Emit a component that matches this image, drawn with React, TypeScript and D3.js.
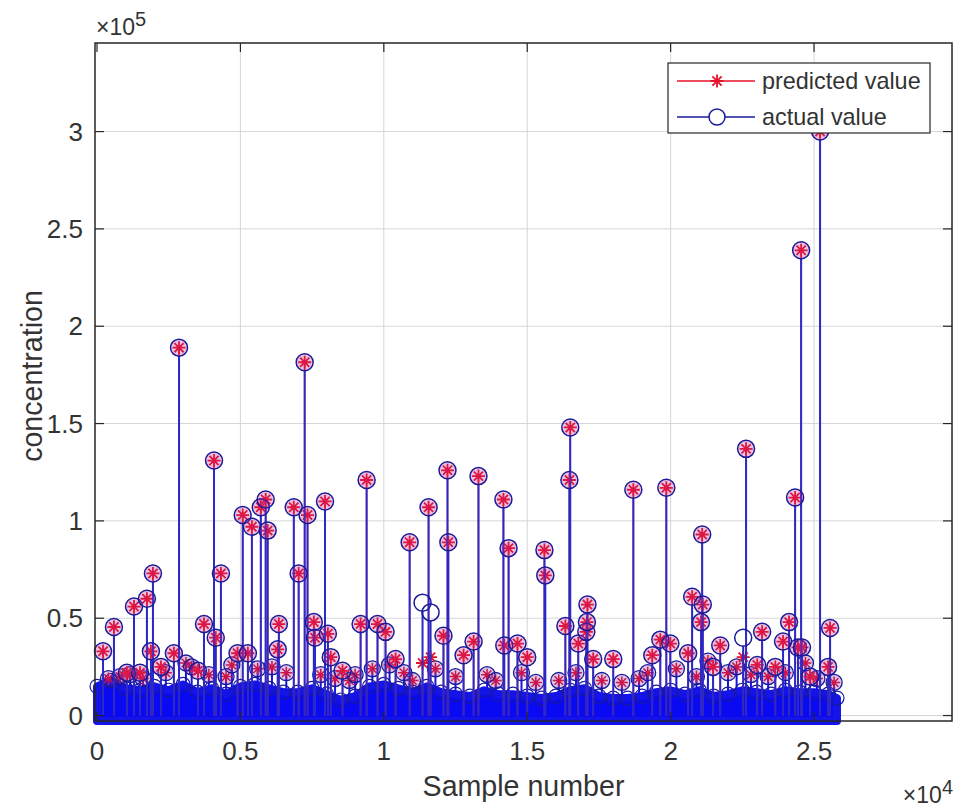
import React, { useEffect, useRef } from 'react'
import * as d3 from 'd3'

// isolated samples that stand out of the dense band
const peakSample = [210, 590, 1040, 1290, 1500, 1740, 1880, 1950, 2230, 2680, 2860, 3520, 3730, 4080, 4140, 4320, 4900, 5080, 5260, 5400, 5710, 5880, 5950, 6300, 6340, 6860, 7030, 7240, 7340, 7560, 7600, 7950, 8050, 8150, 8560, 9190, 9400, 9780, 10060, 10410, 10900, 11350, 11560, 11630, 12080, 12220, 12250, 12780, 13130, 13300, 14170, 14200, 14350, 14660, 15000, 15600, 15630, 16330, 16470, 16500, 16780, 17060, 17080, 17100, 17300, 18000, 18700, 19360, 19640, 19850, 19990, 20610, 20750, 21060, 21100, 21120, 21480, 21730, 22530, 22630, 23020, 23190, 23650, 23920, 24130, 24340, 24440, 24550, 24580, 24860, 25210, 25490, 25560]
const predicted = [33000, 45500, 22000, 56000, 22000, 60000, 33000, 73000, 25000, 32000, 189000, 23000, 47000, 131000, 40000, 73000, 32000, 103000, 32000, 97000, 107000, 111000, 95000, 34000, 47000, 107000, 73000, 181500, 103000, 48000, 40000, 110000, 42000, 30000, 23000, 47000, 121000, 47000, 43000, 29000, 89000, 27000, 107000, 30000, 41000, 126000, 89000, 31000, 38000, 123000, 111000, 36000, 86000, 37000, 30000, 85000, 72000, 46000, 121000, 148000, 37000, 43000, 48000, 57000, 29000, 29000, 116000, 31000, 39000, 117000, 37000, 32000, 61000, 48000, 93000, 57000, 25000, 36000, 30000, 137000, 26000, 43000, 25000, 38000, 48000, 112000, 35000, 239000, 35000, 20000, 300000, 25000, 45000]
const actual = [33000, 45500, 22000, 56000, 22000, 60000, 33000, 73000, 25000, 32000, 189000, 23000, 47000, 131000, 40000, 73000, 32000, 103000, 32000, 97000, 107000, 111000, 95000, 34000, 47000, 107000, 73000, 181500, 103000, 48000, 40000, 110000, 42000, 30000, 23000, 47000, 121000, 47000, 43000, 29000, 89000, 58000, 107000, 53000, 41000, 126000, 89000, 31000, 38000, 123000, 111000, 36000, 86000, 37000, 30000, 85000, 72000, 46000, 121000, 148000, 37000, 43000, 48000, 57000, 29000, 29000, 116000, 31000, 39000, 117000, 37000, 32000, 61000, 48000, 93000, 57000, 25000, 36000, 40000, 137000, 26000, 43000, 25000, 38000, 48000, 112000, 35000, 239000, 35000, 20000, 300000, 25000, 45000]

// smaller samples that sit just above the band
const fringeSample = [400, 800, 1150, 1600, 2400, 3100, 3300, 3900, 4500, 4700, 5600, 6100, 6600, 7800, 8300, 8800, 9000, 9600, 10200, 10700, 11000, 11800, 12500, 13600, 13900, 14800, 15300, 16100, 16700, 17600, 18300, 18900, 19200, 20200, 20900, 21300, 22000, 22300, 22800, 23400, 24000, 24700, 25100, 25700]
const fringeValue = [19000, 20000, 21000, 19000, 22000, 27000, 25000, 21000, 20000, 26000, 24000, 25000, 22000, 21000, 19000, 18000, 21000, 24000, 26000, 22000, 18000, 24000, 20000, 21000, 18000, 22000, 17000, 18000, 22000, 18000, 17000, 19000, 22000, 24000, 20000, 28000, 22000, 25000, 21000, 20000, 22000, 27000, 19000, 17000]

// upper edge of the dense band of small values
const bulkSample = [0, 500, 1000, 1500, 2000, 2500, 3000, 3500, 4000, 4500, 5000, 5500, 6000, 6500, 7000, 7500, 8000, 8500, 9000, 9500, 10000, 10500, 11000, 11500, 12000, 12500, 13000, 13500, 14000, 14500, 15000, 15500, 16000, 16500, 17000, 17500, 18000, 18500, 19000, 19500, 20000, 20500, 21000, 21500, 22000, 22500, 23000, 23500, 24000, 24500, 25000, 25500, 25800]
const bulkTop = [15000, 18000, 14000, 13000, 15000, 13000, 16000, 12000, 14000, 11000, 15000, 16000, 14000, 12000, 12000, 14000, 11000, 8000, 10000, 15000, 16000, 14000, 12000, 15000, 12000, 11000, 10000, 13000, 11000, 11000, 10000, 9000, 10000, 13000, 14000, 10000, 9000, 9000, 10000, 12000, 13000, 11000, 13000, 10000, 11000, 13000, 12000, 11000, 13000, 12000, 12000, 11000, 9000]

const xTicks = [0, 5000, 10000, 15000, 20000, 25000]
const xTickLabels = ['0', '0.5', '1', '1.5', '2', '2.5']
const yTicks = [0, 50000, 100000, 150000, 200000, 250000, 300000]
const yTickLabels = ['0', '0.5', '1', '1.5', '2', '2.5', '3']
const seriesNames = ['predicted value', 'actual value']

const FONT = "'Liberation Sans', Arial, Helvetica, sans-serif"
const RED = '#e8102a'
const BLUE = '#1414e6'
const RING = '#1a1a9a'
const INK = '#333333'

function starPath(cx: number, cy: number, r: number) {
    const d = r * 0.7071
    return `M${cx - r},${cy}L${cx + r},${cy}M${cx},${cy - r}L${cx},${cy + r}` +
        `M${cx - d},${cy - d}L${cx + d},${cy + d}M${cx - d},${cy + d}L${cx + d},${cy - d}`
}

function App() {
    const ref = useRef<SVGSVGElement>(null)

    useEffect(() => {
        const svg = d3.select(ref.current)
        svg.selectAll('*').remove()

        const left = 95, right = 952, top = 43, bottom = 721

        const x = d3.scaleLinear().domain([-70, 29810]).range([left, right])
        const y = d3.scaleLinear().domain([-2800, 345500]).range([bottom, top])

        svg.append('rect').attr('x', left).attr('y', top)
            .attr('width', right - left).attr('height', bottom - top).attr('fill', '#fff')

        // grid
        svg.append('g').selectAll('line').data(xTicks.slice(1)).enter().append('line')
            .attr('x1', d => x(d)).attr('x2', d => x(d))
            .attr('y1', top).attr('y2', bottom)
            .attr('stroke', '#d6d6d6').attr('stroke-width', 1)
        svg.append('g').selectAll('line').data(yTicks).enter().append('line')
            .attr('x1', left).attr('x2', right)
            .attr('y1', d => y(d)).attr('y2', d => y(d))
            .attr('stroke', '#d6d6d6').attr('stroke-width', 1)

        // fringe stems (under the band)
        svg.append('g').selectAll('line').data(fringeValue).enter().append('line')
            .attr('x1', (d, i) => x(fringeSample[i])).attr('x2', (d, i) => x(fringeSample[i]))
            .attr('y1', y(0)).attr('y2', d => y(d))
            .attr('stroke', BLUE).attr('stroke-width', 2)

        // dense band
        const area = d3.area<number>()
            .x((d, i) => x(bulkSample[i]))
            .y0(y(-2800))
            .y1(d => y(d))
        svg.append('path').datum(bulkTop).attr('d', area)
            .attr('fill', '#0a0af2').attr('stroke', BLUE).attr('stroke-width', 8)
            .attr('stroke-linejoin', 'round')

        svg.append('g').selectAll('circle').data(bulkTop).enter().append('circle')
            .attr('cx', (d, i) => x(bulkSample[i]))
            .attr('cy', d => y(d))
            .attr('r', 7)
            .attr('fill', 'none').attr('stroke', RING).attr('stroke-width', 1.2)

        // fringe markers
        svg.append('g').selectAll('path').data(fringeValue).enter().append('path')
            .attr('d', (d, i) => starPath(x(fringeSample[i]), y(d), 6))
            .attr('stroke', RED).attr('stroke-width', 1.5).attr('fill', 'none')
        svg.append('g').selectAll('circle').data(fringeValue).enter().append('circle')
            .attr('cx', (d, i) => x(fringeSample[i]))
            .attr('cy', d => y(d))
            .attr('r', 8)
            .attr('fill', 'rgba(120,30,160,0.25)').attr('stroke', RING).attr('stroke-width', 1.3)

        // predicted stems + stars
        svg.append('g').selectAll('line').data(predicted).enter().append('line')
            .attr('x1', (d, i) => x(peakSample[i])).attr('x2', (d, i) => x(peakSample[i]))
            .attr('y1', y(0)).attr('y2', d => y(d))
            .attr('stroke', RED).attr('stroke-width', 1.5)
        svg.append('g').selectAll('path').data(predicted).enter().append('path')
            .attr('d', (d, i) => starPath(x(peakSample[i]), y(d), 6.5))
            .attr('stroke', RED).attr('stroke-width', 1.8).attr('fill', 'none')

        // actual stems + circles
        svg.append('g').selectAll('line').data(actual).enter().append('line')
            .attr('x1', (d, i) => x(peakSample[i])).attr('x2', (d, i) => x(peakSample[i]))
            .attr('y1', y(0)).attr('y2', d => y(d) + 8)
            .attr('stroke', '#2a2ac8').attr('stroke-width', 2)
        svg.append('g').selectAll('circle').data(actual).enter().append('circle')
            .attr('cx', (d, i) => x(peakSample[i]))
            .attr('cy', d => y(d))
            .attr('r', 8.5)
            .attr('fill', (d, i) => Math.abs(d - predicted[i]) < 1 ? 'rgba(190,40,140,0.28)' : 'none')
            .attr('stroke', RING).attr('stroke-width', 1.5)

        // axes box and ticks
        svg.append('rect').attr('x', left).attr('y', top)
            .attr('width', right - left).attr('height', bottom - top)
            .attr('fill', 'none').attr('stroke', '#262626').attr('stroke-width', 1.5)

        const tl = 9
        const tg = svg.append('g').attr('stroke', '#262626').attr('stroke-width', 1.2)
        xTicks.forEach(t => {
            tg.append('line').attr('x1', x(t)).attr('x2', x(t)).attr('y1', bottom).attr('y2', bottom - tl)
            tg.append('line').attr('x1', x(t)).attr('x2', x(t)).attr('y1', top).attr('y2', top + tl)
        })
        yTicks.forEach(t => {
            tg.append('line').attr('x1', left).attr('x2', left + tl).attr('y1', y(t)).attr('y2', y(t))
            tg.append('line').attr('x1', right).attr('x2', right - tl).attr('y1', y(t)).attr('y2', y(t))
        })

        const txt = svg.append('g').attr('font-family', FONT).attr('fill', INK)

        txt.selectAll('text.xt').data(xTicks).enter().append('text')
            .attr('class', 'xt')
            .attr('x', d => x(d)).attr('y', 760)
            .attr('text-anchor', 'middle').attr('font-size', 26)
            .text((d, i) => xTickLabels[i])

        txt.selectAll('text.yt').data(yTicks).enter().append('text')
            .attr('class', 'yt')
            .attr('x', 83).attr('y', d => y(d) + 9)
            .attr('text-anchor', 'end').attr('font-size', 26)
            .text((d, i) => yTickLabels[i])

        txt.append('text').attr('x', (left + right) / 2).attr('y', 796)
            .attr('text-anchor', 'middle').attr('font-size', 28.6)
            .text('Sample number')

        txt.append('text')
            .attr('transform', 'translate(42, 376) rotate(-90)')
            .attr('text-anchor', 'middle').attr('font-size', 28.6)
            .text('concentration')

        // exponent labels
        const e5 = txt.append('text').attr('x', 96).attr('y', 35).attr('font-size', 23)
        e5.append('tspan').text('×10')
        e5.append('tspan').attr('font-size', 20).attr('dy', -9).text('5')

        const e4 = txt.append('text').attr('x', 953).attr('y', 803)
            .attr('text-anchor', 'end').attr('font-size', 23)
        e4.append('tspan').text('×10')
        e4.append('tspan').attr('font-size', 20).attr('dy', -9).text('4')

        // legend
        const lg = svg.append('g')
        lg.append('rect').attr('x', 668).attr('y', 63).attr('width', 262).attr('height', 70)
            .attr('fill', '#fff').attr('stroke', '#262626').attr('stroke-width', 1.2)
        const rows = [81, 117]
        lg.append('line').attr('x1', 677).attr('x2', 755).attr('y1', rows[0]).attr('y2', rows[0])
            .attr('stroke', RED).attr('stroke-width', 1.5)
        lg.append('path').attr('d', starPath(717, rows[0], 6.5))
            .attr('stroke', RED).attr('stroke-width', 1.8).attr('fill', 'none')
        lg.append('line').attr('x1', 677).attr('x2', 755).attr('y1', rows[1]).attr('y2', rows[1])
            .attr('stroke', RING).attr('stroke-width', 1.5)
        lg.append('circle').attr('cx', 717).attr('cy', rows[1]).attr('r', 8)
            .attr('fill', '#fff').attr('stroke', RING).attr('stroke-width', 1.5)
        lg.selectAll('text').data(seriesNames).enter().append('text')
            .attr('x', 762).attr('y', (d, i) => rows[i] + 8)
            .attr('font-family', FONT).attr('font-size', 23.4).attr('fill', INK)
            .text(d => d)
    }, [])

    return (
        <svg ref={ref} width={961} height={807}
            style={{ position: 'absolute', left: 0, top: 0, background: '#fff' }} />
    )
}

export default App
